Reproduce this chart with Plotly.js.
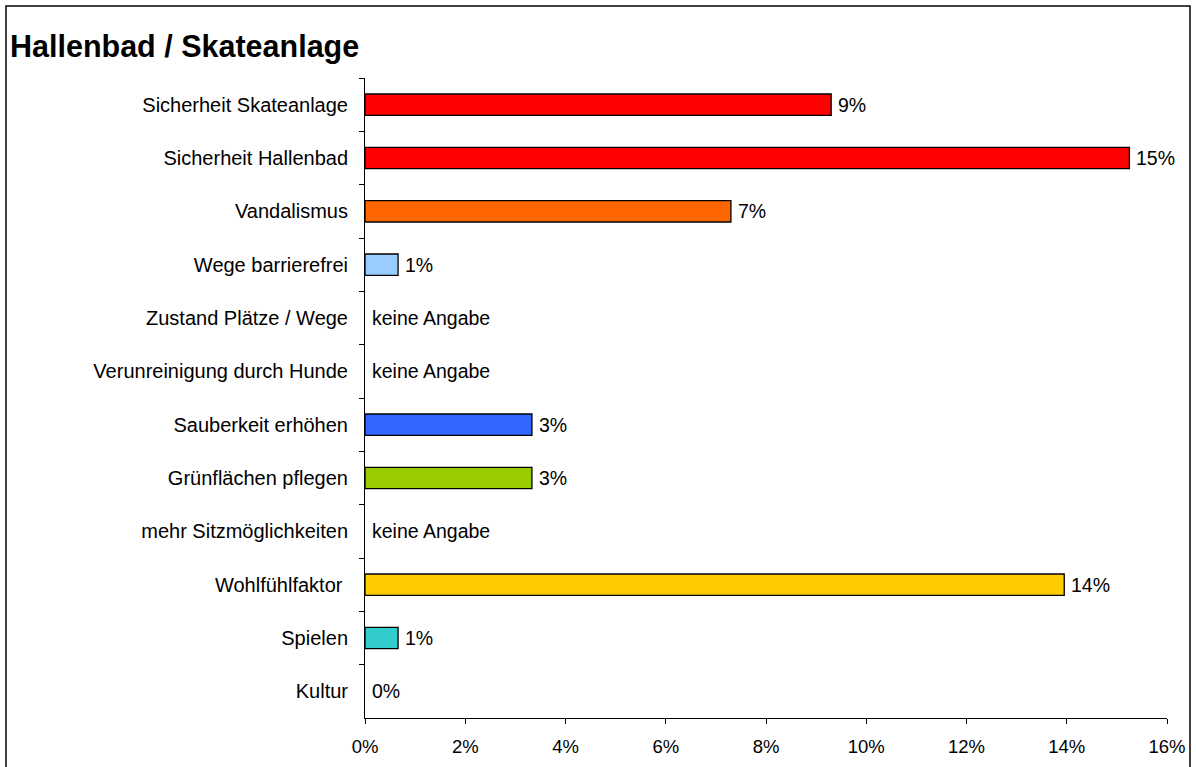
<!DOCTYPE html>
<html>
<head>
<meta charset="utf-8">
<script src="https://cdn.plot.ly/plotly-3.0.1.min.js"></script>
<style>
  html, body { margin: 0; padding: 0; background: #fff; }
  #chart { width: 1196px; height: 767px; }
</style>
</head>
<body>
<div id="chart"></div>
<script>
/* global Plotly */

// categories, top to bottom
const categories = [
    'Sicherheit Skateanlage',
    'Sicherheit Hallenbad',
    'Vandalismus',
    'Wege barrierefrei',
    'Zustand Plätze / Wege',
    'Verunreinigung durch Hunde',
    'Sauberkeit erhöhen',
    'Grünflächen pflegen',
    'mehr Sitzmöglichkeiten',
    'Wohlfühlfaktor\u00a0',
    'Spielen',
    'Kultur'
];

// share in percent
const values = [9.3, 15.25, 7.3, 0.66, 0, 0, 3.33, 3.33, 0, 13.95, 0.66, 0];

const valueLabels = ['9%', '15%', '7%', '1%', 'keine Angabe', 'keine Angabe',
    '3%', '3%', 'keine Angabe', '14%', '1%', '0%'];

const barColors = ['#ff0000', '#ff0000', '#ff6600', '#99ccff', '#ffffff', '#ffffff',
    '#3366ff', '#99cc00', '#ffffff', '#ffcc00', '#33cccc', '#ffffff'];

const xTicks = [0, 2, 4, 6, 8, 10, 12, 14, 16];

const FONT = 'Liberation Sans, Arial, Helvetica, sans-serif';

function buildTrace() {
    return {
        type: 'bar',
        orientation: 'h',
        x: values,
        y: categories,
        marker: {
            color: barColors,
            line: { color: '#000', width: values.map(v => (v > 0 ? 1.3 : 0)) }
        },
        hoverinfo: 'none',
        showlegend: false
    };
}

function buildAnnotations() {
    return categories.map((c, i) => ({
        x: values[i],
        y: c,
        xref: 'x',
        yref: 'y',
        text: valueLabels[i],
        showarrow: false,
        xanchor: 'left',
        yanchor: 'middle',
        xshift: 5,
        font: { family: FONT, size: 19.5, color: '#000' }
    }));
}

function buildLayout() {
    return {
        width: 1196,
        height: 767,
        margin: { l: 365, r: 29, t: 78, b: 49 },
        paper_bgcolor: '#fff',
        plot_bgcolor: '#fff',
        font: { family: FONT, size: 16, color: '#000' },
        title: {
            text: '<b>Hallenbad / Skateanlage</b>',
            font: { family: FONT, size: 30.5, color: '#000' },
            xref: 'container',
            yref: 'container',
            x: 10 / 1196,
            xanchor: 'left',
            y: 1 - 46 / 767,
            yanchor: 'middle'
        },
        bargap: 0.6,
        xaxis: {
            range: [0, 16],
            tickvals: xTicks,
            ticktext: xTicks.map(t => t + '%'),
            ticks: 'outside',
            ticklen: 5,
            tickcolor: '#000',
            showline: true,
            linecolor: '#000',
            linewidth: 1,
            showgrid: false,
            zeroline: false,
            fixedrange: true,
            ticklabelstandoff: 7,
            tickfont: { family: FONT, size: 18.5, color: '#000' }
        },
        yaxis: {
            type: 'category',
            autorange: 'reversed',
            tickson: 'boundaries',
            ticks: 'outside',
            ticklen: 5,
            tickcolor: '#000',
            showline: true,
            linecolor: '#000',
            linewidth: 1,
            showgrid: false,
            zeroline: false,
            fixedrange: true,
            ticklabelstandoff: 12,
            tickfont: { family: FONT, size: 20, color: '#000' }
        },
        annotations: buildAnnotations(),
        shapes: [{
            // outer chart frame
            type: 'rect',
            xref: 'paper',
            yref: 'paper',
            x0: (6 - 365) / 802,
            x1: (1190 - 365) / 802,
            y0: (718 - 775) / 640,
            y1: (718 - 6) / 640,
            line: { color: '#000', width: 1.5 },
            fillcolor: 'rgba(0,0,0,0)'
        }]
    };
}

Plotly.newPlot('chart', [buildTrace()], buildLayout(), {
    displaylogo: false,
    displayModeBar: false,
    staticPlot: true
});
</script>
</body>
</html>
